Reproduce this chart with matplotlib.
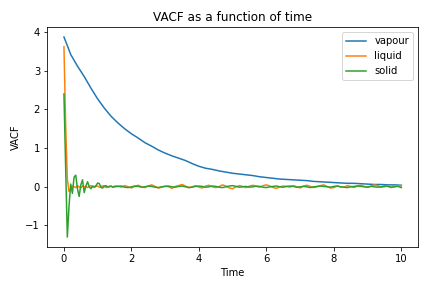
import numpy as np
import matplotlib
matplotlib.use('Agg')
import matplotlib.pyplot as plt


# time grids
t_vap = np.round(np.concatenate([[0.0, 0.1], np.arange(0.2, 10.01, 0.2)]), 2)
t_ls = np.round(np.concatenate([np.arange(0, 1.51, 0.05), np.arange(1.6, 10.01, 0.1)]), 2)

# VACF values
vapour = [3.87, 3.65, 3.42,
          3.12, 2.85, 2.55, 2.27, 2.03, 1.82, 1.65, 1.50, 1.37, 1.26,
          1.14, 1.05, 0.95, 0.87, 0.80, 0.74, 0.68, 0.60, 0.53, 0.48,
          0.45, 0.41, 0.38, 0.35, 0.33, 0.31, 0.29, 0.26, 0.24, 0.22,
          0.20, 0.19, 0.18, 0.17, 0.16, 0.14, 0.13, 0.12, 0.11, 0.10,
          0.09, 0.09, 0.08, 0.07, 0.06, 0.06, 0.05, 0.05, 0.04]

liquid = [3.62, 1.6, 0.2, -0.12, -0.05, 0.02, 0.0, -0.02, 0.03, 0.0,
          -0.03, 0.02, 0.0, 0.01, -0.02, 0.01, 0.03, 0.0, -0.02, 0.01,
          0.02, -0.01, 0.0, 0.03, 0.01, -0.02, 0.0, 0.02, 0.01, -0.01, 0.02,
          # t >= 1.6
          0.02, -0.01, 0.03, 0.0, -0.03, 0.01, 0.04, 0.0, -0.02, 0.02,
          0.05, 0.01, -0.03, -0.01, 0.02, 0.0, -0.04, 0.01, 0.03, 0.06,
          0.02, -0.02, 0.0, 0.03, -0.01, -0.03, 0.02, 0.04, 0.0, -0.02,
          0.01, 0.05, 0.02, -0.03, -0.05, 0.0, 0.03, 0.01, -0.02, 0.02,
          0.04, 0.01, -0.01, 0.03, 0.05, 0.02, -0.02, -0.04, 0.0, 0.02,
          0.01, -0.01, 0.03, 0.0, -0.03, 0.02, 0.04, 0.01, -0.02, 0.0,
          0.03, 0.05, 0.01, -0.03, -0.02, 0.02, 0.0, -0.01, 0.03, 0.01,
          -0.02, 0.02, 0.04, 0.01, -0.01, 0.02, 0.05, 0.03, -0.01, 0.0,
          0.02, -0.02, 0.01, 0.03, 0.02]

solid = [2.4, 0.5, -1.3, -0.5, 0.07, -0.17, 0.25, 0.3, -0.05, -0.25,
         0.05, 0.18, -0.15, 0.02, 0.13, 0.0, -0.05, 0.02, 0.0, 0.03,
         0.1, 0.08, -0.02, -0.03, 0.02, 0.03, -0.01, 0.0, 0.02, -0.01, 0.0,
         # t >= 1.6
         0.01, 0.02, -0.01, -0.02, 0.0, 0.02, 0.01, -0.01, 0.0, 0.02,
         0.01, -0.01, -0.02, 0.0, 0.01, 0.02, 0.0, -0.01, 0.01, 0.02,
         0.0, -0.02, -0.01, 0.01, 0.02, 0.01, -0.01, 0.0, 0.02, 0.01,
         -0.01, -0.02, 0.0, 0.02, 0.03, 0.01, -0.01, 0.0, 0.01, -0.01,
         0.0, 0.02, 0.01, -0.01, -0.02, 0.0, 0.01, 0.02, 0.0, -0.01,
         0.01, 0.02, 0.01, -0.01, 0.0, 0.01, 0.0, -0.02, 0.0, 0.01,
         0.02, 0.01, 0.0, -0.01, 0.01, 0.02, 0.0, -0.01, -0.02, 0.0,
         0.01, 0.02, 0.01, 0.0, -0.01, 0.01, 0.0, -0.01, 0.0, 0.02,
         0.01, -0.01, 0.0, 0.01, -0.02]


fig, ax = plt.subplots(figsize=(6, 4), dpi=72)
ax.plot(t_vap, vapour, label='vapour')
ax.plot(t_ls, liquid, label='liquid')
ax.plot(t_ls, solid, label='solid')

ax.set_title('VACF as a function of time')
ax.set_xlabel('Time')
ax.set_ylabel('VACF')
ax.legend(loc='upper right')

fig.subplots_adjust(left=0.109, right=0.968, bottom=0.142, top=0.906)
fig.savefig('out.png', dpi=72)
